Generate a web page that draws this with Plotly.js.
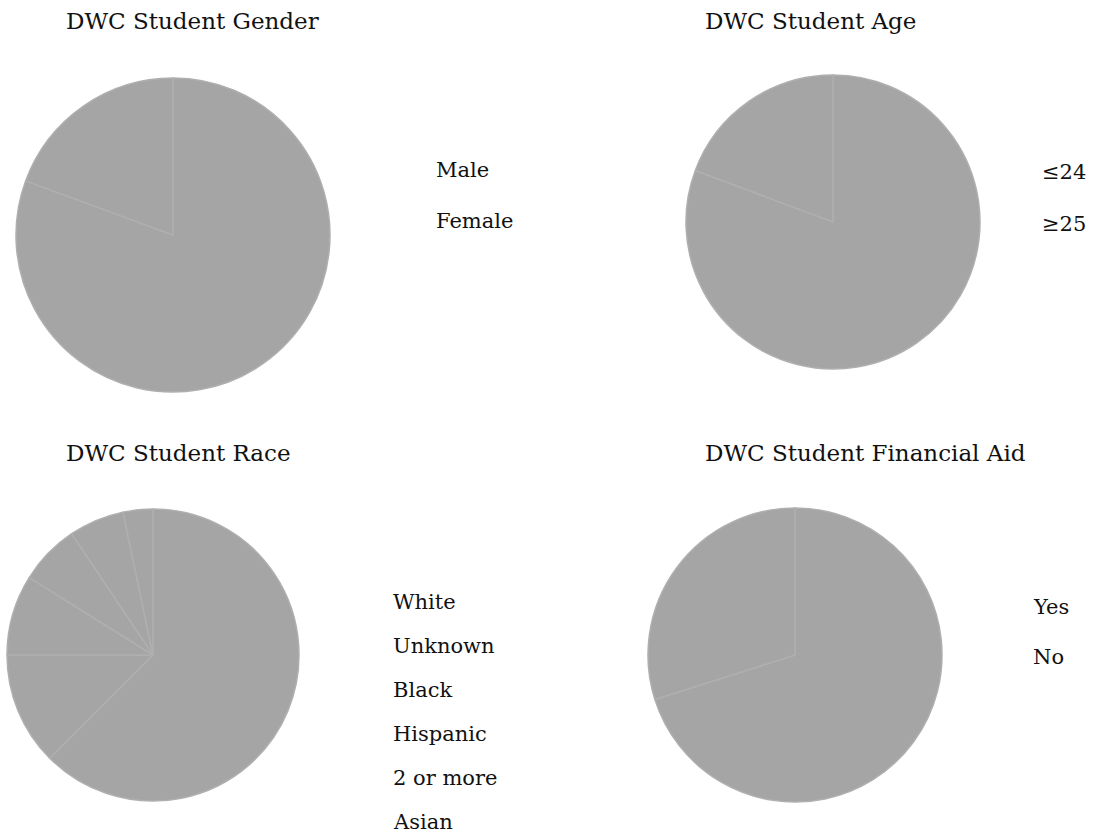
<!DOCTYPE html>
<html>
<head>
<meta charset="utf-8">
<script src="https://cdn.plot.ly/plotly-3.0.1.min.js"></script>
<style>html,body{margin:0;padding:0;background:#fff;}#chart{width:1095px;height:836px;}</style>
</head>
<body>
<div id="chart"></div>
<script>
// ---- data ----
const chartTitles = ['DWC Student Gender', 'DWC Student Age', 'DWC Student Race', 'DWC Student Financial Aid'];
const genderLabels = ['Male', 'Female'];
const genderValues = [80.6, 19.4];
const ageLabels = ['≤24', '≥25'];
const ageValues = [80.7, 19.3];
const raceLabels = ['White', 'Unknown', 'Black', 'Hispanic', '2 or more', 'Asian'];
const raceValues = [62.5, 12.5, 8.9, 6.7, 6.1, 3.3];
const aidLabels = ['Yes', 'No'];
const aidValues = [70.1, 29.9];

// ---- layout helpers ----
const W = 1095, H = 836;
const px = x => x / W;
const py = y => 1 - y / H;
const FONT = 'DejaVu Serif, Liberation Serif, serif';
const SLICE = '#a5a5a5';

const panels = [
  {labels: genderLabels, values: genderValues, title: chartTitles[0],
   box: [16, 78, 330, 392], titlePos: [64, 21], legendPos: [434, 170, 51]},
  {labels: ageLabels, values: ageValues, title: chartTitles[1],
   box: [686, 75, 980, 369], titlePos: [703, 21], legendPos: [1040, 172, 52]},
  {labels: raceLabels, values: raceValues, title: chartTitles[2],
   box: [7, 509, 299, 801], titlePos: [64, 453], legendPos: [391, 602, 44]},
  {labels: aidLabels, values: aidValues, title: chartTitles[3],
   box: [648, 508, 942, 802], titlePos: [703, 453], legendPos: [1031, 607, 50]}
];

const traces = [];
const annotations = [];
panels.forEach(p => {
  traces.push({
    type: 'pie',
    labels: p.labels,
    values: p.values,
    sort: false,
    direction: 'clockwise',
    rotation: 0,
    textinfo: 'none',
    hoverinfo: 'label+percent',
    showlegend: false,
    marker: {colors: p.labels.map(() => SLICE), line: {color: '#afafaf', width: 1.5}},
    domain: {x: [px(p.box[0]), px(p.box[2])], y: [py(p.box[3]), py(p.box[1])]}
  });
  annotations.push({
    text: p.title, xref: 'paper', yref: 'paper',
    x: px(p.titlePos[0]), y: py(p.titlePos[1]),
    xanchor: 'left', yanchor: 'middle', showarrow: false,
    font: {family: FONT, size: 23, color: '#111'}
  });
  p.labels.forEach((lab, i) => {
    annotations.push({
      text: lab, xref: 'paper', yref: 'paper',
      x: px(p.legendPos[0]), y: py(p.legendPos[1] + i * p.legendPos[2]),
      xanchor: 'left', yanchor: 'middle', showarrow: false,
      font: {family: FONT, size: 21, color: '#111'}
    });
  });
});

const layout = {
  width: W, height: H,
  margin: {l: 0, r: 0, t: 0, b: 0},
  paper_bgcolor: '#ffffff',
  showlegend: false,
  annotations: annotations
};

Plotly.newPlot('chart', traces, layout, {displayModeBar: false, staticPlot: true});
</script>
</body>
</html>
